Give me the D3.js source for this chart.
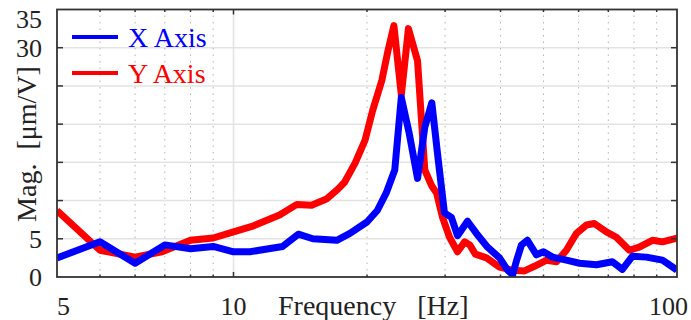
<!DOCTYPE html>
<html>
<head>
<meta charset="utf-8">
<script src="https://cdn.jsdelivr.net/npm/d3@7"></script>
<style>
  body { margin: 0; background: #fff; }
  text { font-family: "Liberation Serif", "Times New Roman", serif; }
</style>
</head>
<body>
<div id="chart"></div>
<script>
const w = 691
const h = 320
const margin = {top: 9.5, right: 14, bottom: 43, left: 57}

// frequency [Hz] and magnitude [um/V]
const freqX = [4.0, 5.0, 6.0, 7.0, 8.0, 9.0, 10.0, 10.9, 12.9, 14.0, 15.1, 17.1, 18.3, 20.0, 21.1, 22.1,
  23.1, 23.9, 24.9, 26.0, 27.0, 28.0, 28.9, 29.9, 31.0, 32.0, 33.7, 35.3, 37.4, 39.8, 41.5, 42.6, 43.5,
  44.6, 46.0, 48.2, 50.0, 52.4, 56.3, 60.3, 65.8, 71.5, 75.3, 79.3, 85.3, 92.7, 96.1, 100]
const magX = [2.5, 4.6, 1.8, 4.2, 3.7, 4.0, 3.3, 3.3, 4.0, 5.6, 5.0, 4.8, 5.7, 7.2, 8.7, 11.0,
  14.0, 23.5, 18.8, 12.9, 19.6, 22.8, 15.7, 8.4, 7.8, 5.4, 7.3, 5.7, 3.9, 2.5, 0.9, 0.3, 2.2,
  4.2, 4.8, 2.9, 3.3, 2.6, 2.2, 1.8, 1.6, 2.0, 1.0, 2.7, 2.6, 2.2, 1.6, 0.9]

const freqY = [4.0, 5.0, 6.0, 6.9, 8.0, 9.0, 10.0, 11.1, 12.7, 13.9, 15.0, 16.2, 17.2, 17.8, 18.8, 19.8,
  20.6, 21.6, 22.3, 23.0, 23.9, 24.8, 26.0, 27.0, 28.0, 28.7, 29.6, 30.7, 32.0, 33.2, 34.1, 35.1, 37.2,
  39.8, 42.4, 45.3, 47.7, 50.8, 53.5, 56.3, 59.3, 62.5, 65.1, 69.3, 73.0, 78.1, 82.2, 88.0, 92.7, 100]
const magY = [8.7, 3.5, 2.6, 3.3, 4.8, 5.1, 5.9, 6.7, 8.1, 9.5, 9.4, 10.2, 11.5, 12.4, 14.9, 17.9,
  21.8, 25.7, 29.6, 32.9, 23.8, 32.5, 28.3, 14.0, 11.9, 11.0, 7.8, 5.2, 3.3, 4.6, 4.2, 3.0, 2.5,
  1.3, 0.9, 0.8, 1.4, 2.2, 2.0, 3.5, 5.7, 6.8, 7.0, 5.9, 5.2, 3.5, 3.9, 4.8, 4.6, 5.1]

const yTicks = [0, 5, 10, 15, 20, 25, 30, 35]
const yTickLabels = ["0", "5", "", "", "", "", "30", "35"]
const xMajor = [10]
const xMinor = [5, 6, 7, 8, 9, 20, 30, 40, 50, 60, 70, 80, 90]
const xTickVals = [4, 10, 100]
const xTickLabels = ["5", "10", "100"]
const seriesNames = ["X Axis", "Y Axis"]
const seriesColors = ["#0000ff", "#ff0000"]

const svg = d3.select("#chart").append("svg")
  .attr("width", w)
  .attr("height", h)

const x = d3.scaleLog()
  .domain([4, 100])
  .range([margin.left, w - margin.right])

const y = d3.scaleLinear()
  .domain([0, 35])
  .range([h - margin.bottom, margin.top])

const x0 = margin.left, x1 = w - margin.right
const y0 = h - margin.bottom, y1 = margin.top

// grid
svg.append("g").selectAll("line")
  .data(yTicks.slice(1, -1))
  .join("line")
  .attr("x1", x0).attr("x2", x1)
  .attr("y1", d => y(d)).attr("y2", d => y(d))
  .attr("stroke", "#e3e3e3")
  .attr("stroke-width", 1.5)

svg.append("g").selectAll("line")
  .data(xMajor)
  .join("line")
  .attr("x1", d => x(d)).attr("x2", d => x(d))
  .attr("y1", y0).attr("y2", y1)
  .attr("stroke", "#e3e3e3")
  .attr("stroke-width", 1.5)

svg.append("g").selectAll("line")
  .data(xMinor)
  .join("line")
  .attr("x1", d => x(d)).attr("x2", d => x(d))
  .attr("y1", y0).attr("y2", y1)
  .attr("stroke", "#b5b5b5")
  .attr("stroke-width", 1)
  .attr("stroke-dasharray", "1.5,5")

// lines
svg.append("clipPath").attr("id", "clip")
  .append("rect")
  .attr("x", x0).attr("y", y1)
  .attr("width", x1 - x0).attr("height", y0 - y1)

const line = d3.line()
  .x(d => x(d[0]))
  .y(d => y(d[1]))

const series = [
  d3.zip(freqX, magX),
  d3.zip(freqY, magY)
]

// red under blue
svg.append("g").attr("clip-path", "url(#clip)")
  .selectAll("path")
  .data([1, 0])
  .join("path")
  .attr("d", i => line(series[i]))
  .attr("fill", "none")
  .attr("stroke", i => seriesColors[i])
  .attr("stroke-width", 7)
  .attr("stroke-linejoin", "round")

// frame and ticks
const ticks = svg.append("g").attr("stroke", "#333").attr("stroke-width", 1.5)
yTicks.slice(1, -1).forEach(v => {
  ticks.append("line").attr("x1", x0).attr("x2", x0 + 6).attr("y1", y(v)).attr("y2", y(v))
  ticks.append("line").attr("x1", x1).attr("x2", x1 - 6).attr("y1", y(v)).attr("y2", y(v))
})
xMinor.concat(xMajor).forEach(v => {
  const len = xMajor.includes(v) ? 5 : 2.5
  ticks.append("line").attr("x1", x(v)).attr("x2", x(v)).attr("y1", y0).attr("y2", y0 - len)
  ticks.append("line").attr("x1", x(v)).attr("x2", x(v)).attr("y1", y1).attr("y2", y1 + len)
})

svg.append("rect")
  .attr("x", x0).attr("y", y1)
  .attr("width", x1 - x0).attr("height", y0 - y1)
  .attr("fill", "none")
  .attr("stroke", "#333")
  .attr("stroke-width", 1.8)

// tick labels
svg.append("g").selectAll("text")
  .data(yTicks)
  .join("text")
  .attr("x", 42)
  .attr("y", d => Math.max(y(d), y1 + 9))
  .attr("dy", "0.35em")
  .attr("text-anchor", "end")
  .attr("font-size", 26)
  .attr("fill", "#222")
  .text((d, i) => yTickLabels[i])

svg.append("g").selectAll("text")
  .data(xTickVals)
  .join("text")
  .attr("x", (d, i) => i === xTickVals.length - 1 ? x(d) + 11 : x(d))
  .attr("y", 315)
  .attr("text-anchor", (d, i) => i === 0 ? "start" : (i === xTickVals.length - 1 ? "end" : "middle"))
  .attr("font-size", 26)
  .attr("fill", "#222")
  .text((d, i) => xTickLabels[i])

// axis titles
svg.append("text")
  .attr("x", 278)
  .attr("y", 315)
  .attr("font-size", 28)
  .attr("fill", "#222")
  .style("white-space", "pre")
  .text("Frequency   [Hz]")

svg.append("text")
  .attr("transform", "translate(36,144) rotate(-90)")
  .attr("text-anchor", "middle")
  .attr("font-size", 28)
  .attr("fill", "#222")
  .style("white-space", "pre")
  .text("Mag.  [\u03bcm/V]")

// legend
const legend = svg.append("g").selectAll("g")
  .data(seriesNames)
  .join("g")
  .attr("transform", (d, i) => `translate(72,${37 + i * 36})`)

legend.append("line")
  .attr("x1", 0).attr("x2", 46)
  .attr("stroke", (d, i) => seriesColors[i])
  .attr("stroke-width", 4)

legend.append("text")
  .attr("x", 56)
  .attr("dy", "0.35em")
  .attr("font-size", 28)
  .attr("fill", (d, i) => seriesColors[i])
  .text(d => d)
</script>
</body>
</html>
